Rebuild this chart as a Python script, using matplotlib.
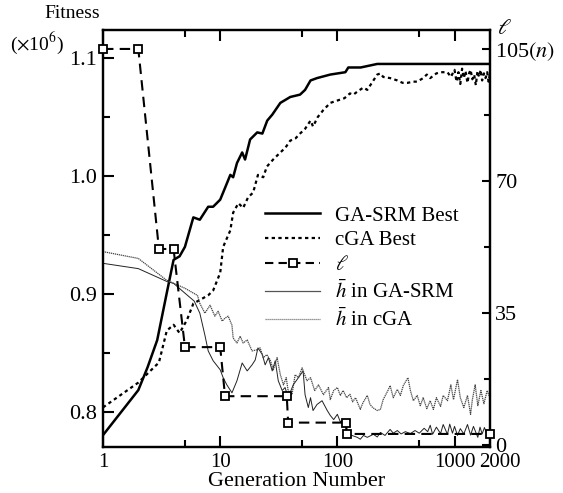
import matplotlib
matplotlib.use("Agg")
import matplotlib.pyplot as plt
import matplotlib.transforms as mtransforms
from matplotlib.lines import Line2D

plt.rcParams["font.family"] = ["Liberation Serif", "DejaVu Serif"]
plt.rcParams["mathtext.fontset"] = "stix"

# GA-SRM best fitness (x10^6)
srm_gen = [1, 2, 2.4, 2.9, 3.5, 4, 4.5, 5, 5.9, 6.7, 7.9, 8.7, 10, 11, 12.2, 12.9, 13.9,
           15.4, 16.3, 18, 20.7, 22.9, 25.2, 27.8, 30.6, 32.6, 39.6, 48, 53, 59, 67,
           87, 117, 124, 158, 219, 2000]
srm_best = [0.7805, 0.8186, 0.838, 0.861, 0.901, 0.929, 0.932, 0.940, 0.965, 0.963, 0.974,
            0.974, 0.980, 0.990, 1.001, 0.999, 1.011, 1.020, 1.014, 1.031, 1.037, 1.036,
            1.047, 1.052, 1.058, 1.062, 1.067, 1.069, 1.073, 1.081, 1.083, 1.086, 1.088,
            1.092, 1.092, 1.095, 1.095]

# cGA best fitness (x10^6)
cga_gen = [1, 2, 3, 3.5, 4, 4.5, 5.2, 5.9, 6.7, 7.9, 8.7, 10, 10.6, 12.2, 12.9, 14.3, 15.7,
           17.3, 19.1, 21, 23.3, 25, 28.3, 32.6, 36, 39.6, 44, 48, 53, 59, 62, 68, 76, 87,
           100, 115, 128, 137, 150, 167, 180, 200, 219, 233, 246, 282, 325, 360, 398, 445,
           480, 540, 580, 620, 700, 760, 870, 930, 1000, 1040, 1080, 1120, 1160, 1200, 1240,
           1290, 1330, 1370, 1420, 1470, 1520, 1570, 1620, 1670, 1720, 1780, 1840, 1900,
           1950, 2000]
cga_best = [0.804, 0.825, 0.842, 0.869, 0.874, 0.867, 0.878, 0.892, 0.895, 0.899, 0.903,
            0.918, 0.940, 0.954, 0.969, 0.977, 0.973, 0.982, 0.986, 1.001, 0.999, 1.008,
            1.014, 1.020, 1.024, 1.030, 1.032, 1.036, 1.040, 1.047, 1.042, 1.050, 1.056,
            1.062, 1.064, 1.066, 1.070, 1.069, 1.072, 1.075, 1.073, 1.080, 1.086, 1.087,
            1.084, 1.083, 1.081, 1.079, 1.079, 1.080, 1.080, 1.083, 1.086, 1.083, 1.087,
            1.088, 1.088, 1.084, 1.090, 1.080, 1.088, 1.078, 1.091, 1.083, 1.089, 1.079,
            1.087, 1.090, 1.082, 1.086, 1.077, 1.089, 1.084, 1.090, 1.081, 1.087, 1.083,
            1.088, 1.080, 1.086]

# segment length l (right axis)
len_gen = [1, 2, 3, 4, 5, 10, 11, 37, 38, 119, 120, 2000]
len_val = [105, 105, 52, 52, 26, 26, 13, 13, 6, 6, 3, 3]

# mean h in GA-SRM (right axis)
hs_gen = [1, 2, 3.5, 4, 5, 6, 6.7, 7.4, 7.9, 8.7, 10, 10.6, 11.4, 12.6, 13.9, 15.4, 17,
          18.7, 19.9, 21, 22.9, 24.2, 25.8, 27.8, 29.5, 31.3, 33.8, 35.8, 38, 42, 46.5,
          51, 53, 56.5, 59, 62, 67, 74, 82, 87, 93, 100, 106, 110, 117, 120, 133, 148,
          157, 167, 180, 203, 219, 233, 255, 282, 300, 325, 350, 380, 420, 460, 500, 550,
          590, 620, 650, 700, 760, 800, 870, 910, 960, 1000, 1060, 1120, 1200, 1290,
          1370, 1450, 1580, 1650, 1720, 1800, 1900, 2000]
hs_val = [48.2, 46.8, 43.4, 42.9, 40.3, 38.2, 35.0, 29.2, 25.0, 22.4, 20.0, 17.9, 16.0,
          13.9, 17.1, 21.8, 19.7, 21.3, 22.6, 25.8, 24.0, 21.3, 23.2, 19.7, 22.4, 17.1,
          14.5, 15.3, 12.6, 16.0, 17.9, 19.7, 13.4, 10.0, 12.6, 9.2, 10.8, 11.8, 9.2, 7.9,
          6.8, 8.2, 6.2, 6.6, 5.5, 3.4, 2.6, 2.1, 1.6, 2.6, 2.1, 2.9, 2.2, 3.4, 2.6, 4.2,
          3.2, 3.9, 3.0, 3.6, 3.1, 3.9, 3.2, 4.5, 3.6, 5.3, 2.9, 4.8, 3.1, 5.5, 2.9, 5.6,
          3.2, 5.0, 2.6, 4.4, 3.0, 5.5, 2.7, 5.0, 2.1, 4.8, 3.0, 4.7, 2.6, 3.8]

# mean h in cGA (right axis)
hc_gen = [1, 2, 3.5, 5, 6.4, 6.7, 7.4, 8.2, 9, 9.6, 10.4, 11, 11.7, 12.6, 12.9, 13.9, 14.8,
          15.7, 17, 18.7, 20.7, 21.9, 23.3, 25, 26.7, 28.4, 30.6, 32.6, 34.7, 36.6, 38, 41,
          43.6, 46.5, 50, 55, 59, 64, 69, 76, 84, 87, 93, 100, 106, 112, 120, 128, 135, 143,
          157, 165, 180, 190, 200, 219, 233, 246, 270, 282, 300, 325, 345, 365, 400, 420,
          445, 480, 510, 540, 580, 620, 660, 700, 760, 800, 870, 930, 980, 1060, 1120, 1200,
          1290, 1370, 1420, 1500, 1580, 1680, 1780, 1900, 2000]
hc_val = [51.3, 49.5, 43.7, 41.6, 39.7, 37.6, 35.0, 37.1, 34.2, 35.5, 32.9, 33.7, 34.2,
          31.8, 28.4, 27.1, 28.9, 27.1, 27.9, 25.0, 25.3, 25.8, 23.2, 24.0, 22.6, 20.0,
          23.2, 18.7, 16.0, 17.9, 14.5, 13.4, 18.7, 17.9, 20.5, 17.1, 17.9, 14.5, 16.0,
          13.4, 15.3, 12.1, 14.5, 15.3, 13.2, 14.5, 12.6, 13.5, 11.5, 12.6, 9.5, 11.2,
          13.2, 10.8, 10.0, 9.2, 9.5, 12.1, 14.5, 15.8, 12.6, 14.8, 13.2, 15.8, 17.9, 14.5,
          11.8, 13.2, 10.5, 12.6, 9.7, 11.8, 9.5, 12.6, 10.3, 13.2, 11.8, 16.0, 12.1, 17.4,
          12.6, 10.0, 13.2, 8.2, 12.1, 16.0, 10.5, 14.5, 11.0, 14.5, 12.6]

fig = plt.figure(figsize=(5.63, 4.93), dpi=100)
ax = fig.add_axes([0.183, 0.093, 0.687, 0.846])
ax2 = ax.twinx()

ax.plot(srm_gen, srm_best, color="black", lw=1.8)
ax.plot(cga_gen, cga_best, color="black", lw=1.6, linestyle=(0, (1.5, 1.5)))
ax2.plot(hs_gen, hs_val, color="#222222", lw=0.7)
ax2.plot(hc_gen, hc_val, color="#444444", lw=0.9, linestyle=(0, (1, 0.6)))
ax2.plot(len_gen, len_val, color="black", lw=1.5, linestyle=(0, (5, 3)),
         marker="s", markersize=6, markerfacecolor="white", markeredgewidth=1.3,
         clip_on=False, zorder=5)

ax.set_xscale("log")
ax.set_xlim(1, 2000)
ax.set_ylim(0.7703, 1.1237)
ax2.set_ylim(-0.5, 110)

ax.set_xticks([1, 10, 100, 1000, 2000])
ax.set_xticklabels(["1", "10", "100", "1000", "2000"])
ax.set_xticks([5, 50, 500], minor=True)
ax.xaxis.set_minor_formatter(plt.NullFormatter())
ax.set_yticks([0.8, 0.9, 1.0, 1.1])
ax.set_yticklabels(["0.8", "0.9", "1.0", "1.1"])
ax.set_yticks([0.85, 0.95, 1.05], minor=True)
ax2.set_yticks([0, 35, 70, 105])
ax2.set_yticklabels(["0", "35", "70", r"105$\mathit{(n)}$"])
ax2.set_yticks([17.5, 52.5, 87.5], minor=True)

ax.tick_params(which="both", direction="in", top=True, labelsize=16, width=1.5, pad=4)
ax.tick_params(axis="x", labelsize=15)
ax.tick_params(which="major", length=8)
ax.tick_params(which="minor", length=5)
ax.tick_params(axis="y", right=False)
ax2.tick_params(which="both", direction="in", labelsize=16, width=1.5, pad=4)
ax2.tick_params(which="major", length=6)
ax2.tick_params(which="minor", length=4)
for a in (ax, ax2):
    for s in a.spines.values():
        s.set_linewidth(1.6)

# nudge the "2000" label right, as in the original
lab2000 = ax.get_xticklabels()[-1]
lab2000.set_transform(lab2000.get_transform() + mtransforms.ScaledTranslation(10 / 100, 0, fig.dpi_scale_trans))

ax.set_xlabel("Generation Number", fontsize=16, labelpad=0)

fig.text(0.128, 0.972, "Fitness", fontsize=14, ha="center", va="center")
fig.text(0.066, 0.912, r"($\times$10$^6$)", fontsize=14, ha="center", va="center")
fig.text(0.895, 0.94, r"$\ell$", fontsize=16, ha="center", va="center")

handles = [
    Line2D([], [], color="black", lw=1.8),
    Line2D([], [], color="black", lw=1.6, linestyle=(0, (1.5, 1.5))),
    Line2D([], [], color="black", lw=1.5, linestyle=(0, (4, 2.5)), marker="s",
           markersize=6, markerfacecolor="white", markeredgewidth=1.3),
    Line2D([], [], color="#555555", lw=0.9),
    Line2D([], [], color="#777777", lw=0.9, linestyle=(0, (1, 0.6))),
]
labels = ["GA-SRM Best", "cGA Best", r"$\ell$", r"$\bar{h}$ in GA-SRM", r"$\bar{h}$ in cGA"]
ax2.legend(handles, labels, loc="upper left", bbox_to_anchor=(0.419, 0.578), frameon=False,
           fontsize=15, handlelength=2.65, handletextpad=0.7, labelspacing=0.25,
           borderpad=0, borderaxespad=0)

fig.savefig("out.png", dpi=100)
